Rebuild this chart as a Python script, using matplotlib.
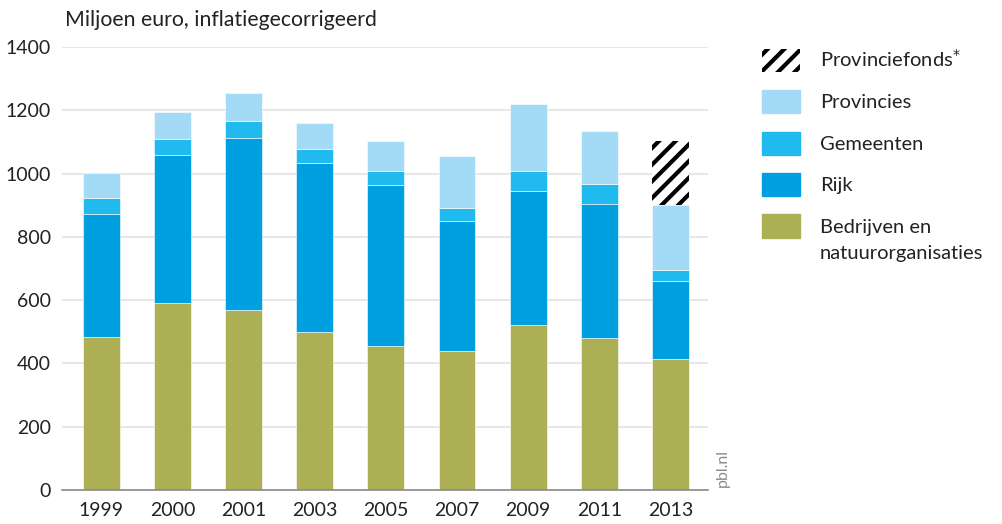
import matplotlib.pyplot as plt
import matplotlib.patches as mpatches
import numpy as np

plt.rcParams['font.family'] = ['Lato', 'DejaVu Sans']
plt.rcParams['hatch.linewidth'] = 3.0

# jaren en bijdragen (miljoen euro)
years = ['1999', '2000', '2001', '2003', '2005', '2007', '2009', '2011', '2013']
bedrijven = [484, 590, 570, 500, 456, 439, 522, 479, 414]
rijk = [390, 468, 543, 534, 507, 411, 423, 425, 246]
gemeenten = [50, 51, 55, 43, 44, 41, 65, 63, 36]
provincies = [79, 87, 87, 84, 97, 166, 209, 169, 204]
provinciefonds = [0, 0, 0, 0, 0, 0, 0, 0, 202]

c_bedr = '#adaf55'
c_rijk = '#009fe0'
c_gem = '#21baee'
c_prov = '#a3daf5'
txt = '#222222'

fig = plt.figure(figsize=(10.03, 5.24), dpi=100)
ax = fig.add_axes([0.062, 0.065, 0.644, 0.845])

x = np.arange(len(years))
w = 0.52
bottom = np.zeros(len(years))
ax.bar(x, bedrijven, w, bottom=bottom, color=c_bedr, edgecolor='white', linewidth=0.4, zorder=3)
bottom += bedrijven
ax.bar(x, rijk, w, bottom=bottom, color=c_rijk, edgecolor='white', linewidth=0.4, zorder=3)
bottom += rijk
ax.bar(x, gemeenten, w, bottom=bottom, color=c_gem, edgecolor='white', linewidth=0.4, zorder=3)
bottom += gemeenten
ax.bar(x, provincies, w, bottom=bottom, color=c_prov, edgecolor='white', linewidth=0.4, zorder=3)
bottom += provincies
ax.bar(x, provinciefonds, w, bottom=bottom, color='white', edgecolor='black', hatch='//', linewidth=0, zorder=3)

ax.set_xlim(-0.55, 8.53)
ax.set_ylim(0, 1400)
ax.set_yticks(range(0, 1401, 200))
ax.set_xticks(x)
ax.set_xticklabels(years)
ax.tick_params(axis='both', length=0, labelsize=14, colors=txt)
ax.tick_params(axis='y', pad=8)
ax.tick_params(axis='x', pad=9)
ax.grid(axis='y', color='#e3e3e3', linewidth=1.2, zorder=0)
for s in ['top', 'right', 'left']:
    ax.spines[s].set_visible(False)
ax.spines['bottom'].set_color('#8a8a8a')
ax.spines['bottom'].set_linewidth(1.2)
ax.spines['bottom'].set_zorder(4)

fig.text(0.065, 0.943, 'Miljoen euro, inflatiegecorrigeerd', fontsize=15.3, color=txt, va='bottom')
fig.text(0.721, 0.07, 'pbl.nl', rotation=90, fontsize=11.5, color='#8a8a8a', va='bottom', ha='center')

handles = [
    mpatches.Patch(facecolor='white', edgecolor='black', hatch='//', linewidth=0),
    mpatches.Patch(color=c_prov),
    mpatches.Patch(color=c_gem),
    mpatches.Patch(color=c_rijk),
    mpatches.Patch(color=c_bedr),
]
labels = ['Provinciefonds$^{*}$', 'Provincies', 'Gemeenten', 'Rijk', 'Bedrijven en']
leg = fig.legend(handles, labels, loc='upper left', bbox_to_anchor=(0.760, 0.908),
                 frameon=False, fontsize=14.5, handlelength=1.85, handleheight=1.4,
                 labelspacing=0.9, handletextpad=1.0, borderaxespad=0, borderpad=0)
for t in leg.get_texts():
    t.set_color(txt)

# tweede regel van het laatste legendalabel, onder de eerste
fig.canvas.draw()
bb = leg.get_texts()[-1].get_window_extent().transformed(fig.transFigure.inverted())
fig.text(bb.x0, bb.y0 - 0.05, 'natuurorganisaties', fontsize=14.5, color=txt, va='bottom')

fig.savefig('out.png', dpi=100)
